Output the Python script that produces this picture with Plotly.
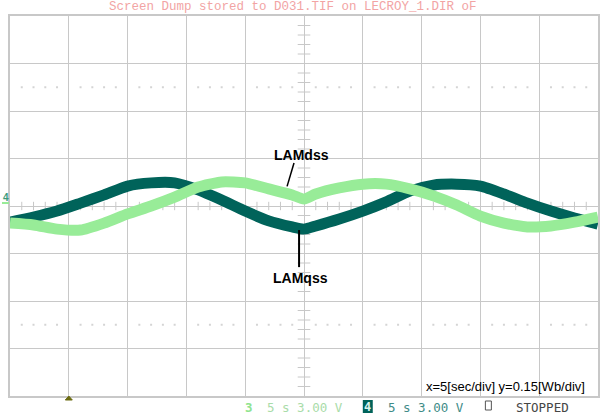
import plotly.graph_objects as go

# Time base: 10 divisions x 5 s, vertical: 8 divisions x 0.15 Wb
t_sec = [0, 2, 4, 6, 8, 10, 12, 14, 16, 18, 20, 22, 24, 25, 26, 28, 30,
         32, 34, 36, 38, 40, 42, 44, 46, 48, 50]

# Flux linkage traces [Wb]
lam_qss = [-0.051, -0.035, -0.016, 0.009, 0.035, 0.063, 0.073, 0.073, 0.051,
           0.019, -0.016, -0.047, -0.066, -0.073, -0.063, -0.041, -0.016,
           0.013, 0.047, 0.066, 0.069, 0.063, 0.038, 0.009, -0.016, -0.038,
           -0.057]
lam_dss = [-0.054, -0.060, -0.073, -0.076, -0.054, -0.025, 0.000, 0.028,
           0.060, 0.076, 0.073, 0.054, 0.035, 0.022, 0.038, 0.057, 0.069,
           0.069, 0.054, 0.032, 0.003, -0.032, -0.054, -0.066, -0.063,
           -0.051, -0.035]

X_DIV, Y_DIV = 5, 0.15
N_XDIV, N_YDIV = 10, 8
X_MAX = X_DIV * N_XDIV
Y_MAX = Y_DIV * N_YDIV / 2

GRID = "#c8c8c8"
DARK = "#00635a"
LIGHT = "#98ec98"

# screen geometry helpers (pixel -> paper fraction)
L, T, W, H = 10, 16, 590, 380


def fx(px):
    return (px - L) / W


def fy(py):
    return (T + H - py) / H


fig = go.Figure()

# graticule decorations: centre-line minor ticks and dotted rows
minor_x = [i * X_DIV / 5 for i in range(0, N_XDIV * 5 + 1) if i % 5 != 0]
minor_y = [j * Y_DIV / 5 for j in range(-N_YDIV // 2 * 5, N_YDIV // 2 * 5 + 1) if j % 5 != 0]

fig.add_trace(go.Scatter(x=minor_x, y=[0] * len(minor_x), mode="markers",
                         marker=dict(symbol="line-ns", size=6,
                                     line=dict(color=GRID, width=1)),
                         hoverinfo="skip"))
fig.add_trace(go.Scatter(x=[X_MAX / 2] * len(minor_y), y=minor_y, mode="markers",
                         marker=dict(symbol="line-ew", size=9,
                                     line=dict(color=GRID, width=1)),
                         hoverinfo="skip"))
for yrow in (2.5 * Y_DIV, -2.5 * Y_DIV):
    fig.add_trace(go.Scatter(x=minor_x, y=[yrow] * len(minor_x), mode="markers",
                             marker=dict(symbol="square", size=2, color="#d4d4d4"),
                             hoverinfo="skip"))

# signal traces
fig.add_trace(go.Scatter(x=t_sec, y=lam_qss, mode="lines", name="LAMqss",
                         line=dict(color=DARK, width=11, shape="spline",
                                   smoothing=0.6)))
fig.add_trace(go.Scatter(x=t_sec, y=lam_dss, mode="lines", name="LAMdss",
                         line=dict(color=LIGHT, width=11, shape="spline",
                                   smoothing=0.6)))

# label pointers
fig.add_shape(type="line", x0=24.15, y0=0.136, x1=23.56, y1=0.062,
              line=dict(color="black", width=1.5))
fig.add_shape(type="line", x0=24.58, y0=-0.076, x1=24.58, y1=-0.193,
              line=dict(color="black", width=2))

lab_font = dict(family="Liberation Sans, Arial", size=14, color="black")
fig.add_annotation(x=24.8, y=0.161, text="<b>LAMdss</b>", showarrow=False,
                   font=lab_font, xanchor="center", yanchor="middle")
fig.add_annotation(x=24.66, y=-0.226, text="<b>LAMqss</b>", showarrow=False,
                   font=lab_font, xanchor="center", yanchor="middle")

# scale note
fig.add_annotation(xref="paper", yref="paper", x=fx(425), y=fy(386),
                   text="x=5[sec/div] y=0.15[Wb/div]", showarrow=False,
                   font=dict(family="Liberation Sans, Arial", size=13, color="black"),
                   xanchor="left", yanchor="middle")

mono = "DejaVu Sans Mono, monospace"

# header line
fig.add_annotation(xref="paper", yref="paper", x=fx(108), y=fy(7),
                   text="Screen Dump stored to D031.TIF on LECROY_1.DIR oF",
                   showarrow=False, xanchor="left", yanchor="middle",
                   borderpad=0,
                   font=dict(family="Liberation Mono, monospace", size=12.5,
                             color="#f2a4a4"))

# status bar
status = [
    (244, "<b>3</b>", "#90e490"),
    (266, "5 s 3.00 V", "#a9dca9"),
    (387, "5 s 3.00 V", "#3f8c88"),
    (516, "STOPPED", "#454545"),
]
for px, txt, col in status:
    fig.add_annotation(xref="paper", yref="paper", x=fx(px), y=fy(407),
                       text=txt, showarrow=False, xanchor="left", yanchor="middle",
                       font=dict(family=mono, size=12.5, color=col))

fig.add_shape(type="rect", xref="paper", yref="paper",
              x0=fx(364), x1=fx(374), y0=fy(413), y1=fy(400),
              fillcolor=DARK, line=dict(width=0))
fig.add_annotation(xref="paper", yref="paper", x=fx(369), y=fy(407),
                   text="<b>4</b>", showarrow=False, xanchor="center", yanchor="middle",
                   font=dict(family=mono, size=12, color="#d8f4ee"))
fig.add_shape(type="rect", xref="paper", yref="paper",
              x0=fx(487), x1=fx(493), y0=fy(410), y1=fy(401),
              fillcolor="white", line=dict(color="#555555", width=1))

# trigger position marker under the graticule
fig.add_shape(type="path", xref="paper", yref="paper",
              path=f"M {fx(65.5)} {fy(400)} L {fx(72.5)} {fy(400)} L {fx(69)} {fy(396)} Z",
              fillcolor="#6b6b10", line=dict(color="#6b6b10", width=1))

# channel 4 ground marker on the left edge
fig.add_annotation(xref="paper", yref="paper", x=fx(5.5), y=fy(197),
                   text="<b>4</b>", showarrow=False, xanchor="center", yanchor="middle",
                   font=dict(family="Liberation Sans, Arial", size=10, color="#3b9a7a"))
fig.add_shape(type="line", xref="paper", yref="paper",
              x0=fx(2), x1=fx(9), y0=fy(203), y1=fy(203),
              line=dict(color=LIGHT, width=2))

fig.update_xaxes(range=[0, X_MAX], dtick=X_DIV, tick0=0, showgrid=True,
                 gridcolor=GRID, gridwidth=1, showticklabels=False, ticks="",
                 zeroline=False, showline=True, linecolor=GRID, linewidth=1.5,
                 mirror=True, fixedrange=True)
fig.update_yaxes(range=[-Y_MAX, Y_MAX], dtick=Y_DIV, tick0=0, showgrid=True,
                 gridcolor=GRID, gridwidth=1, showticklabels=False, ticks="",
                 zeroline=False, showline=True, linecolor=GRID, linewidth=1.5,
                 mirror=True, fixedrange=True)

fig.update_layout(width=600, height=416, showlegend=False,
                  margin=dict(l=L, r=0, t=T, b=416 - T - H, pad=0),
                  plot_bgcolor="white", paper_bgcolor="white")

fig.write_html("out.html")
